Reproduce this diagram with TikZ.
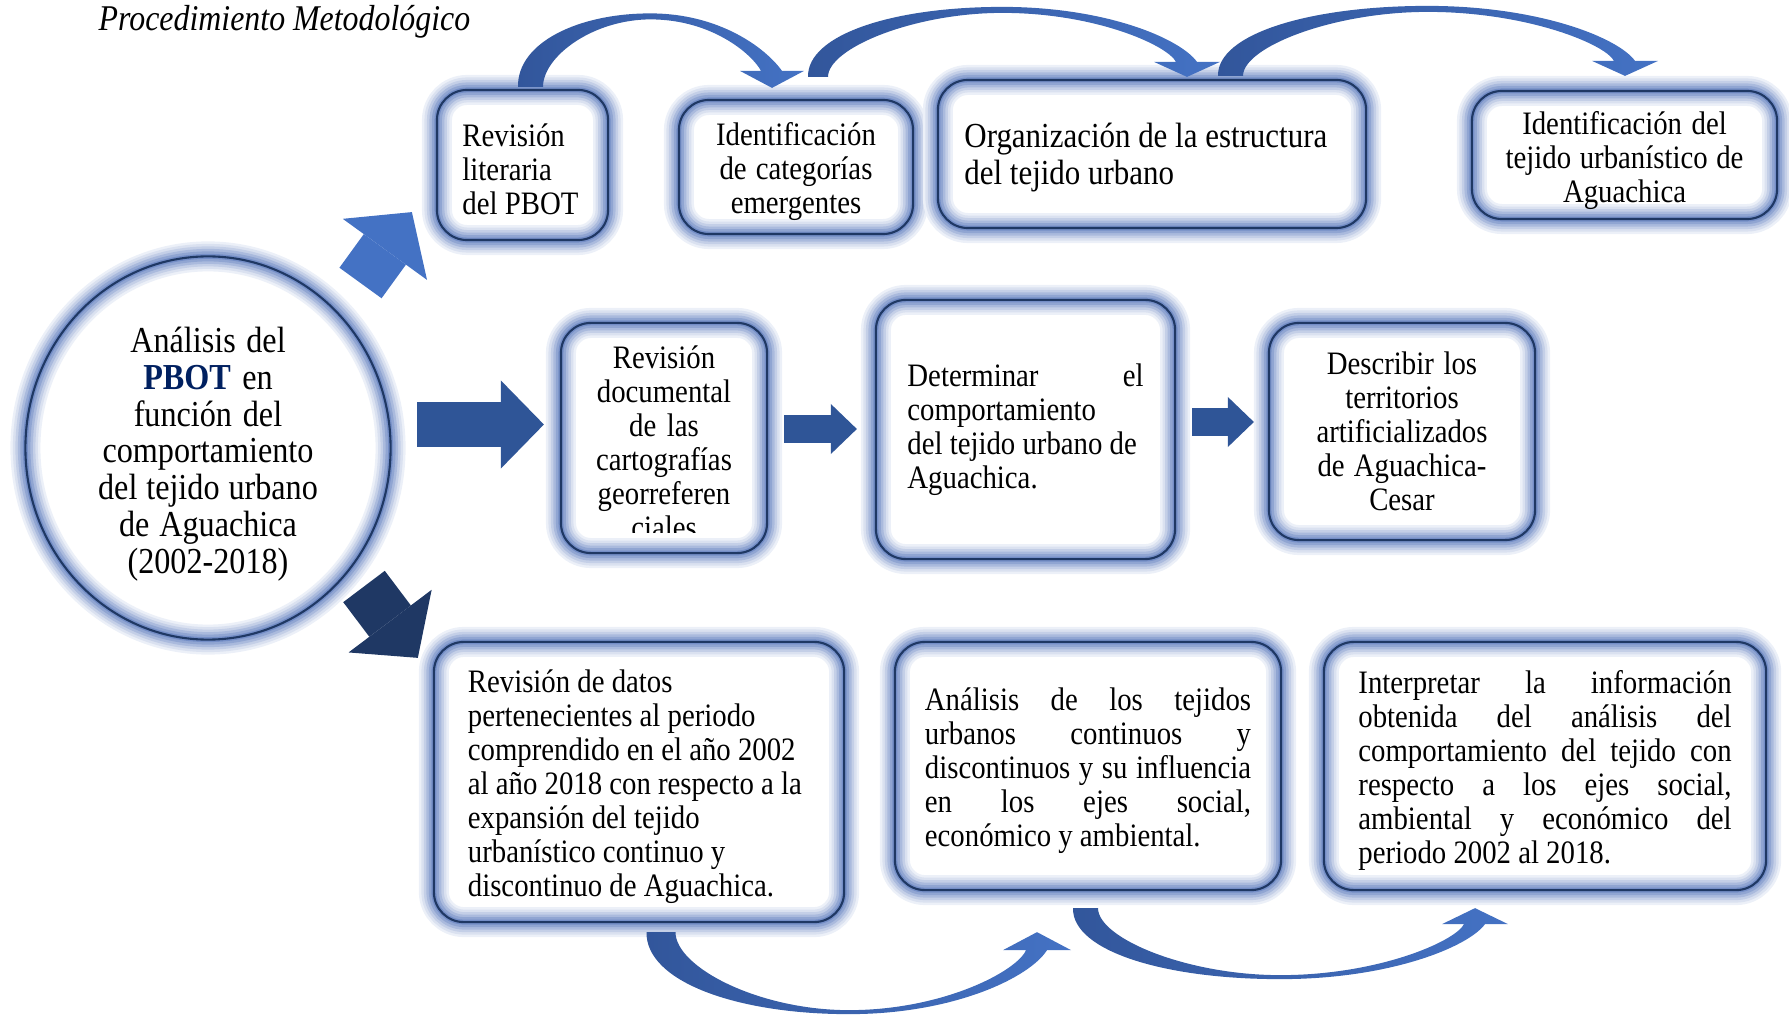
\documentclass[tikz,border=0pt]{standalone}
\usepackage{fontspec}
\setmainfont{Liberation Serif}[FakeStretch=0.88]
\usetikzlibrary{arrows.meta}
\usetikzlibrary{calc}
\usetikzlibrary{shapes.geometric}
\definecolor{boxline}{RGB}{31,56,100}
\definecolor{glowc}{RGB}{70,105,180}
\definecolor{pbotblue}{RGB}{0,32,96}
\definecolor{arrowdark}{RGB}{47,85,151}
\definecolor{arrowlight}{RGB}{68,114,196}
\definecolor{arrownavy}{RGB}{31,56,100}
\definecolor{arcdark}{RGB}{50,86,155}
\definecolor{arclight}{RGB}{68,114,196}
\newcommand{\boxfont}{\fontsize{9.3}{9.65}\selectfont}
\newcommand{\circfont}{\fontsize{10.4}{10.45}\selectfont}
\newcommand{\normspace}{\spaceskip=0pt\xspaceskip=0pt\relax}
\newcommand{\jline}[1]{\makebox[\hsize][s]{#1}}
% curved band arrow: start, tip, outer peak, inner peak, half stem, head depth, half head
\newcommand{\bentarrow}[7]{%
  \shade[left color=arcdark,right color=arclight]
    ($(#1)+(-#5,0)$)
    .. controls ($(#1)+({-#5-1},{0.6*(#3)})$) and ($(#1)!0.2!(#2)+(0,#3)$)
    .. ($(#1)!0.5!(#2)+(0,#3)$)
    .. controls ($(#1)!0.78!(#2)+(0,#3)$) and ($(#2)+(-7,{0.55*(#3)})$)
    .. ($(#2)+(10,#6)$) -- ($(#2)+(#7,#6)$) -- (#2) -- ($(#2)+(-#7,#6)$) -- ($(#2)+(-11,#6)$)
    .. controls ($(#2)+(-20,{0.5*(#4)})$) and ($(#1)!0.75!(#2)+(0,#4)$)
    .. ($(#1)!0.5!(#2)+(0,#4)$)
    .. controls ($(#1)!0.26!(#2)+(0,#4)$) and ($(#1)+(#5,{0.45*(#4)})$)
    .. ($(#1)+(#5,0)$) -- cycle;}
\tikzset{glow/.style={preaction={fill=white},
                      preaction={draw=glowc!10,line width=0.30cm},
                      preaction={draw=glowc!20,line width=0.25cm},
                      preaction={draw=glowc!32,line width=0.20cm},
                      preaction={draw=glowc!46,line width=0.15cm},
                      preaction={draw=glowc!60,line width=0.10cm},
                      preaction={draw=glowc!75,line width=0.05cm},
                      draw=boxline,line width=0.6pt}}
\tikzset{plaintext/.style={inner sep=0pt,align=center,font=\boxfont,
                           execute at begin node=\normspace}}
\tikzset{stepbox/.style={glow,rectangle,rounded corners=0.3cm,plaintext}}
\tikzset{sunk/.style={execute at begin node={\normspace\rule{0pt}{9pt}}}}
\tikzset{bigarrow/.style={arrowdark,line width=0.45cm,
                          -{Triangle[length=0.43cm,width=0.88cm,line width=0pt]}}}
\tikzset{smallarrow/.style={arrowdark,line width=0.27cm,
                            -{Triangle[length=0.26cm,width=0.50cm,line width=0pt]}}}
\tikzset{diagarrow/.style={line width=0.52cm,
                           -{Triangle[length=0.46cm,width=1.04cm,line width=0pt]}}}

\begin{document}
\begin{tikzpicture}[x=0.01cm,y=-0.01cm]
	\useasboundingbox (0,0) rectangle (1789,1016);
	\node[anchor=base west,inner sep=0pt,font=\fontsize{10.3}{12}\selectfont\itshape]
		(title) at (98,31) {Procedimiento Metodológico};
	% central ellipse
	\node[ellipse,glow,minimum width=3.65cm,minimum height=3.83cm,inner sep=0pt] (pbot) at (208,448) {};
	\node[plaintext,text width=2.5cm,font=\circfont] (pbottext) at ($(pbot.center)+(0,6)$)
		{Análisis del\\\textcolor{pbotblue}{\textbf{PBOT}} en\\función del\\comportamiento\\del tejido urbano\\de Aguachica\\(2002-2018)};
	% top row
	\node[stepbox,sunk,minimum width=1.71cm,minimum height=1.50cm,text width=1.2cm,align=left]
		(rev) at (522.5,165) {Revisión\\literaria\\del PBOT};
	\node[stepbox,sunk,minimum width=2.34cm,minimum height=1.34cm,text width=2.2cm]
		(cat) at (796,167) {Identificación\\de categorías\\emergentes};
	\node[stepbox,sunk,minimum width=4.28cm,minimum height=1.48cm,text width=3.75cm,align=left,
		font=\fontsize{10}{10.3}\selectfont] (org) at (1152,154)
		{Organización de la estructura\\del tejido urbano};
	\node[stepbox,minimum width=3.05cm,minimum height=1.28cm,text width=2.9cm,
		execute at begin node={\normspace\rule{0pt}{9.6pt}}]
		(tej) at (1624.5,155) {Identificación del\\tejido urbanístico de\\Aguachica};
	% middle row
	\node[stepbox,minimum width=2.06cm,minimum height=2.30cm] (doc) at (664,438) {};
	\begin{scope}
		\clip ($(doc.north west)+(10,12)$) rectangle ($(doc.south east)+(-10,-22)$);
		\node[plaintext,text width=1.9cm] (doctext) at (664,442)
			{Revisión\\documental\\de las\\cartografías\\georreferen\\ciales};
	\end{scope}
	\node[stepbox,minimum width=2.99cm,minimum height=2.59cm,text width=2.36cm,align=left]
		(det) at (1025.5,429.5)
		{Determinar\hfill el\\comportamiento\\del tejido urbano de\\Aguachica.};
	\node[stepbox,minimum width=2.66cm,minimum height=2.17cm,text width=2.4cm]
		(desc) at (1402,431.5)
		{Describir los\\territorios\\artificializados\\de Aguachica-\\Cesar};
	% bottom row
	\node[stepbox,sunk,minimum width=4.10cm,minimum height=2.80cm,text width=3.42cm,align=left]
		(datos) at (639,782)
		{Revisión de datos\\pertenecientes al periodo\\comprendido en el año 2002\\al año 2018 con respecto a la\\expansión del tejido\\urbanístico continuo y\\discontinuo de Aguachica.};
	\node[stepbox,sunk,minimum width=3.86cm,minimum height=2.48cm,text width=3.26cm,align=left]
		(ana) at (1088,766)
		{\jline{Análisis de los tejidos}\\\jline{urbanos continuos y}\\\jline{discontinuos y su influencia}\\\jline{en los ejes social,}\\económico y ambiental.};
	\node[stepbox,sunk,minimum width=4.42cm,minimum height=2.48cm,text width=3.73cm,align=left]
		(interp) at (1545,766)
		{\jline{Interpretar la información}\\\jline{obtenida del análisis del}\\\jline{comportamiento del tejido con}\\\jline{respecto a los ejes social,}\\\jline{ambiental y económico del}\\periodo 2002 al 2018.};
	% straight arrows
	\draw[bigarrow] ($(pbot.east)+(25.5,-23.5)$) -- ($(doc.west)+(-16,-13.5)$);
	\draw[smallarrow] ($(doc.east)+(16,-9)$) -- ($(det.west)+(-18,-0.5)$);
	\draw[smallarrow] ($(det.east)+(16,-7.5)$) -- ($(desc.west)+(-14,-9.5)$);
	\draw[diagarrow,arrowlight] ($(pbot.center)+(152.5,-165)$) -- ($(rev.south west)+(-24,-29)$);
	\draw[diagarrow,arrownavy] ($(pbot.center)+(156,138.5)$) -- ($(datos.north west)+(-15,17)$);
	% curved arrows
	\coordinate (a1s) at ($(rev.north)+(8,-2)$);
	\coordinate (a1t) at ($(cat.north)+(-24,-11)$);
	\coordinate (a2s) at ($(cat.north)+(22,-22)$);
	\coordinate (a2t) at ($(org.north)+(35,-2)$);
	\coordinate (a3s) at ($(org.north)+(78.5,-3)$);
	\coordinate (a3t) at ($(tej.north)+(0.5,-14)$);
	\coordinate (a4s) at ($(datos.south)+(22,9)$);
	\coordinate (a4t) at ($(ana.south)+(-51,41)$);
	\coordinate (a5s) at ($(ana.south)+(-2.5,17)$);
	\coordinate (a5t) at ($(interp.south)+(-70,17)$);
	\bentarrow{a1s}{a1t}{-74}{-68}{12.5}{-17}{32}
	\bentarrow{a2s}{a2t}{-70}{-64}{10}{-15}{33}
	\bentarrow{a3s}{a3t}{-70}{-64}{12.5}{-15}{33}
	\bentarrow{a4s}{a4t}{82}{78}{14.5}{18}{34}
	\bentarrow{a5s}{a5t}{71}{67}{12.5}{16}{33}
\end{tikzpicture}
\end{document}
